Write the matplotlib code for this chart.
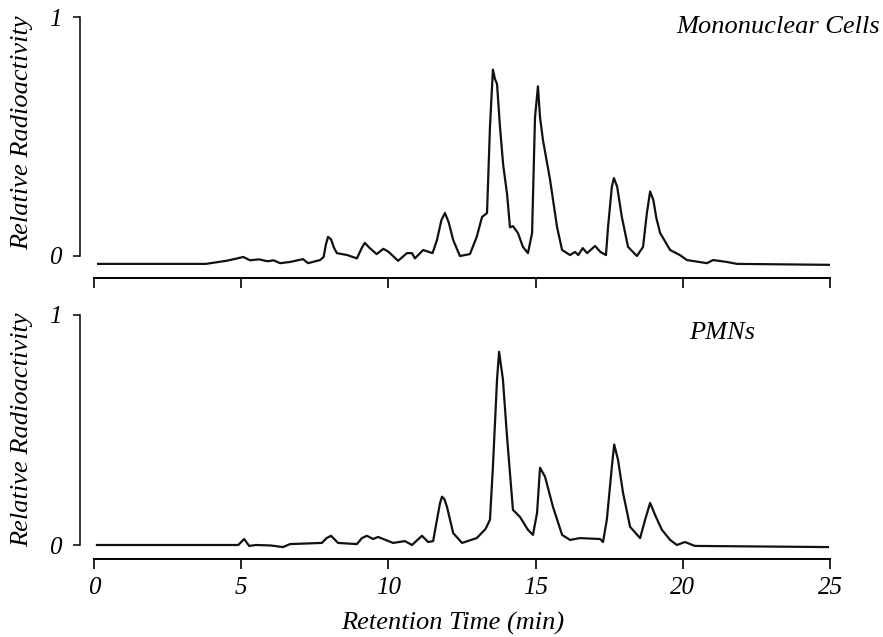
import numpy as np
from matplotlib import pyplot as plt

# Retention time (min) and relative radioactivity
mono_t = [0.14, 3.8, 4.5, 4.8, 5.07, 5.3, 5.6, 5.9, 6.1, 6.32, 6.66, 7.1, 7.27,
          7.68, 7.8, 7.88, 7.95, 8.05, 8.15, 8.25, 8.6, 8.93, 9.1, 9.2, 9.35,
          9.6, 9.83, 10.0, 10.33, 10.63, 10.8, 10.9, 11.18, 11.5, 11.65, 11.8,
          11.92, 12.05, 12.2, 12.43, 12.77, 13.0, 13.18, 13.35, 13.45, 13.55,
          13.62, 13.69, 13.79, 13.9, 14.03, 14.13, 14.23, 14.4, 14.57, 14.74,
          14.88, 14.98, 15.08, 15.15, 15.25, 15.49, 15.73, 15.9, 16.17, 16.34,
          16.45, 16.6, 16.75, 17.02, 17.2, 17.39, 17.46, 17.59, 17.66, 17.77,
          17.93, 18.14, 18.44, 18.65, 18.78, 18.89, 19.0, 19.1, 19.23, 19.57,
          19.9, 20.14, 20.82, 21.03, 21.5, 21.84, 25.0]
mono_v = [-0.033, -0.033, -0.02, -0.012, -0.004, -0.018, -0.014, -0.022, -0.018,
          -0.03, -0.025, -0.013, -0.03, -0.017, -0.004, 0.05, 0.08, 0.07,
          0.035, 0.012, 0.004, -0.01, 0.035, 0.055, 0.035, 0.008, 0.03, 0.018,
          -0.02, 0.012, 0.012, -0.01, 0.025, 0.012, 0.067, 0.15, 0.18, 0.14,
          0.067, 0.0, 0.008, 0.08, 0.163, 0.18, 0.54, 0.78, 0.74, 0.72, 0.54,
          0.38, 0.26, 0.12, 0.125, 0.096, 0.038, 0.012, 0.096, 0.58, 0.71,
          0.58, 0.485, 0.32, 0.12, 0.025, 0.004, 0.017, 0.004, 0.033, 0.012,
          0.042, 0.017, 0.004, 0.12, 0.29, 0.326, 0.29, 0.163, 0.038, 0.0,
          0.038, 0.18, 0.27, 0.234, 0.16, 0.096, 0.025, 0.004, -0.017, -0.03,
          -0.017, -0.025, -0.033, -0.037]

pmn_t = [0.1, 4.9, 5.1, 5.27, 5.5, 6.0, 6.42, 6.66, 7.74, 7.9, 8.05, 8.29,
         8.93, 9.1, 9.27, 9.48, 9.65, 10.16, 10.56, 10.8, 11.14, 11.35, 11.52,
         11.65, 11.75, 11.82, 11.9, 11.99, 12.2, 12.5, 13.0, 13.3, 13.45,
         13.55, 13.69, 13.76, 13.89, 14.03, 14.23, 14.47, 14.74, 14.91, 15.05,
         15.15, 15.32, 15.59, 15.9, 16.17, 16.5, 17.19, 17.29, 17.42, 17.59,
         17.67, 17.8, 17.97, 18.21, 18.55, 18.72, 18.89, 19.06, 19.29, 19.57,
         19.8, 20.07, 20.41, 24.93]
pmn_v = [0.0, 0.0, 0.026, -0.004, 0.0, -0.002, -0.009, 0.004, 0.009, 0.03,
         0.04, 0.009, 0.004, 0.03, 0.04, 0.026, 0.035, 0.009, 0.017, 0.0, 0.04,
         0.013, 0.017, 0.11, 0.18, 0.21, 0.2, 0.166, 0.052, 0.009, 0.03, 0.07,
         0.11, 0.34, 0.72, 0.84, 0.72, 0.47, 0.153, 0.122, 0.066, 0.044, 0.14,
         0.336, 0.297, 0.166, 0.044, 0.022, 0.03, 0.026, 0.013, 0.11, 0.34,
         0.437, 0.37, 0.227, 0.079, 0.03, 0.11, 0.183, 0.13, 0.066, 0.022, 0.0,
         0.013, -0.004, -0.009]

x_ticks = [0, 5, 10, 15, 20, 25]
y_ticks = [0, 1]
panel_names = ['Mononuclear Cells', 'PMNs']

W, H = 883, 637
serif = ['Liberation Serif', 'DejaVu Serif']
fs = 19

fig = plt.figure(figsize=(W / 100, H / 100), dpi=100)

# axes boxes in pixels, y limits put 0 and 1 where the reference has them
ax1 = fig.add_axes([80 / W, 1 - 278 / H, 750 / W, (278 - 10) / H])
ax2 = fig.add_axes([80 / W, 1 - 559 / H, 750 / W, (559 - 308) / H])
xl = (-14 / 29.44, 25)
ax1.set_ylim(-22 / 239, 246 / 239)
ax2.set_ylim(-14 / 230, 237 / 230)

for ax, t, v in [(ax1, mono_t, mono_v), (ax2, pmn_t, pmn_v)]:
    ax.plot(t, v, color='#111111', lw=1.6)
    ax.set_xlim(*xl)
    for s in ['top', 'right']:
        ax.spines[s].set_visible(False)
    ax.spines['left'].set_bounds(0, 1)
    ax.spines['bottom'].set_bounds(0, 25)
    ax.spines['left'].set_linewidth(1.1)
    ax.spines['bottom'].set_linewidth(1.4)
    ax.set_xticks(x_ticks)
    ax.set_yticks(y_ticks)
    ax.tick_params(axis='x', direction='out', length=7, width=1.2, pad=6)
    ax.tick_params(axis='y', direction='out', length=5, width=1.1, pad=8)
    ax.set_yticklabels([str(y) for y in y_ticks], family=serif,
                       style='italic', fontsize=18)

ax1.set_xticklabels([])
ax2.set_xticklabels([str(x) for x in x_ticks], family=serif,
                    style='italic', fontsize=18)

def fx(px):
    return px / W

def fy(py):
    return 1 - py / H

for cy in [133, 430]:
    fig.text(fx(22), fy(cy), 'Relative Radioactivity', rotation=90,
             ha='center', va='center', family=serif, style='italic',
             fontsize=fs)

fig.text(fx(880), fy(27), panel_names[0], ha='right', va='center',
         family=serif, style='italic', fontsize=fs)
fig.text(fx(722), fy(333), panel_names[1], ha='center', va='center',
         family=serif, style='italic', fontsize=fs)
fig.text(fx(453), fy(623), 'Retention Time (min)', ha='center', va='center',
         family=serif, style='italic', fontsize=fs)

fig.savefig('out.png', dpi=100)
